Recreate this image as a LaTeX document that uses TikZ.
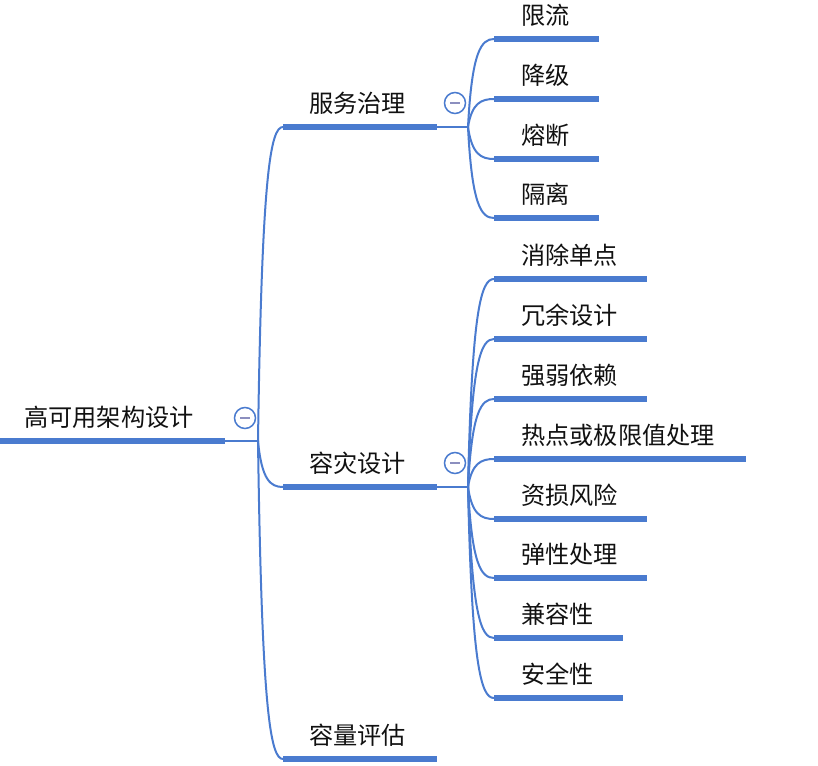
\documentclass[tikz,border=0pt]{standalone}
\usepackage{fontspec}
\newfontfamily\cjk{Noto Sans CJK SC}
\usetikzlibrary{calc}
\definecolor{mmblue}{HTML}{4A7BCF}
\definecolor{mmminus}{HTML}{8C8FBF}
\definecolor{mmtext}{HTML}{111111}
\newcommand\mmbranch[2]{%
  \draw[conn] let \p1=(#1), \p2=(#2) in (\p1) .. controls ({\x1+0.15*(\x2-\x1)},{\y1+0.85*(\y2-\y1)}) and ({\x1+0.5*(\x2-\x1)},\y2) .. (\p2);}
\tikzset{
  bar/.style={draw=mmblue, line width=6pt},
  conn/.style={draw=mmblue, line width=2pt},
  lbl/.style={font=\cjk\fontsize{24.2}{24.2}\selectfont, text=mmtext, inner sep=0pt, anchor=west},
  fold/.style={circle, draw=mmblue, fill=white, line width=1.5pt, minimum size=21pt, inner sep=0pt,
    path picture={\draw[mmminus, line width=2.5pt] ([xshift=-5pt]path picture bounding box.center) -- ([xshift=5pt]path picture bounding box.center);}}
}
\begin{document}
\begin{tikzpicture}[x=1pt,y=-1pt]
\useasboundingbox (0,0) rectangle (818,765);
% root
\coordinate (r0) at (0,441);
\coordinate (r1) at (225,441);
\coordinate (rj) at (258,441);
\draw[bar] (r0) -- (r1);
\draw[conn] (r1) -- (rj);
\node[lbl] (rt) at (24,417) {高可用架构设计};
\node[fold] (rf) at (245,418) {};
% level 1
\foreach \nm/\yv/\lab in {a/127/服务治理, b/487/容灾设计, c/759/容量评估}{
  \coordinate (\nm s) at (283,\yv);
  \coordinate (\nm e) at (437,\yv);
  \draw[bar] (\nm s) -- (\nm e);
  \node[lbl] (\nm t) at (309,\yv-24) {\lab};
  \mmbranch{rj}{\nm s}
}
% service governance children
\coordinate (aj) at (468,127);
\draw[conn] (ae) -- (aj);
\node[fold] (af) at (455,103) {};
\foreach \nm/\yv/\xv/\lab in {a1/39/599/限流, a2/99/599/降级, a3/159/599/熔断, a4/218/599/隔离}{
  \coordinate (\nm s) at (494,\yv);
  \coordinate (\nm e) at (\xv,\yv);
  \draw[bar] (\nm s) -- (\nm e);
  \node[lbl] (\nm t) at (521,\yv-24) {\lab};
  \mmbranch{aj}{\nm s}
}
% disaster tolerance children
\coordinate (bj) at (468,487);
\draw[conn] (be) -- (bj);
\node[fold] (bf) at (455,463) {};
\foreach \nm/\yv/\xv/\lab in {b1/279/647/消除单点, b2/339/647/冗余设计, b3/399/647/强弱依赖, b4/459/746/热点或极限值处理, b5/519/647/资损风险, b6/578/647/弹性处理, b7/638/623/兼容性, b8/698/623/安全性}{
  \coordinate (\nm s) at (494,\yv);
  \coordinate (\nm e) at (\xv,\yv);
  \draw[bar] (\nm s) -- (\nm e);
  \node[lbl] (\nm t) at (521,\yv-24) {\lab};
  \mmbranch{bj}{\nm s}
}
\end{tikzpicture}
\end{document}
